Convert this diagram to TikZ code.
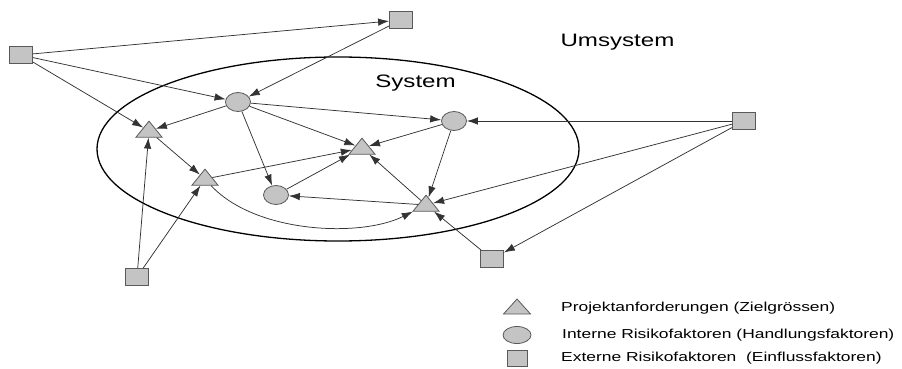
\documentclass[tikz,border=0pt]{standalone}
\usepackage{fontspec}
\setmainfont[FakeStretch=1.34]{Liberation Sans}
\usetikzlibrary{shapes.geometric,arrows.meta}
\begin{document}
\begin{tikzpicture}[x=1pt,y=-1pt,
  fac/.style={draw=black!65, fill=black!23, line width=0.8pt, inner sep=0pt},
  ext/.style={fac, rectangle, minimum width=23pt, minimum height=17pt},
  int/.style={fac, ellipse, minimum width=25pt, minimum height=19pt},
  req/.style={fac, isosceles triangle, isosceles triangle stretches,
    shape border rotate=90, minimum width=26pt, minimum height=16pt},
  link/.style={draw=black!80, line width=0.75pt, -{Latex[length=11pt,width=7.5pt]}},
  title/.style={font=\fontsize{18}{20}\selectfont, inner sep=0pt},
  legend/.style={font=\fontsize{13}{15}\selectfont, inner sep=0pt, anchor=west},
]
\useasboundingbox (0,0) rectangle (902,369);

% system boundary
\draw[line width=1.3pt] (338,149) ellipse [x radius=241, y radius=92];
\node[title, anchor=base] (umsys) at (617.5,46.5) {Umsystem};
\node[title, anchor=base] (sys) at (415.5,87) {System};

% external factors
\node[ext] (S1) at (21,55) {};
\node[ext] (S2) at (401,20) {};
\node[ext] (S3) at (744,121) {};
\node[ext] (S4) at (492,259) {};
\node[ext] (S5) at (137,277) {};

% internal factors
\node[int] (C1) at (238,102) {};
\node[int] (C2) at (454,121) {};
\node[int] (C3) at (276,195) {};

% project requirements
\node[req] (T1) at (149,131) {};
\node[req] (T2) at (205,179) {};
\node[req] (T3) at (362,148) {};
\node[req] (T4) at (426,205) {};

% influences
\draw[link] (S1) -- (S2);
\draw[link] (S1) -- (C1);
\draw[link] (S1) -- (T1);
\draw[link] (S2) -- (C1);
\draw[link] (C1) -- (T1);
\draw[link] (C1) -- (C2);
\draw[link] (C1) -- (T3);
\draw[link] (C1) -- (C3);
\draw[link] (C2) -- (T3);
\draw[link] (C2) -- (T4);
\draw[link] (S3) -- (C2);
\draw[link] (S3) -- (T4);
\draw[link] (S3) -- (S4);
\draw[link] (S4) -- (T4);
\draw[link] (T4) -- (T3);
\draw[link] (T4) -- (C3);
\draw[link] (C3) -- (T3);
\draw[link] (T2) -- (T3);
\draw[link] (T1) -- (T2);
\draw[link] (T2) .. controls (255,233) and (360,238) .. (T4);
\draw[link] (S5) -- (T1);
\draw[link] (S5) -- (T2);

% legend
\node[req, minimum width=27pt, minimum height=15pt] (LT) at (517,308) {};
\node[int, minimum width=28pt, minimum height=17pt] (LC) at (517,335) {};
\node[ext, minimum width=20pt, minimum height=16pt] (LS) at (517,358) {};
\node[legend] (LT-t) at (561,308) {Projektanforderungen (Zielgrössen)};
\node[legend] (LC-t) at (562,335) {Interne Risikofaktoren (Handlungsfaktoren)};
\node[legend] (LS-t) at (561,358) {Externe Risikofaktoren\ \ (Einflussfaktoren)};
\end{tikzpicture}
\end{document}
